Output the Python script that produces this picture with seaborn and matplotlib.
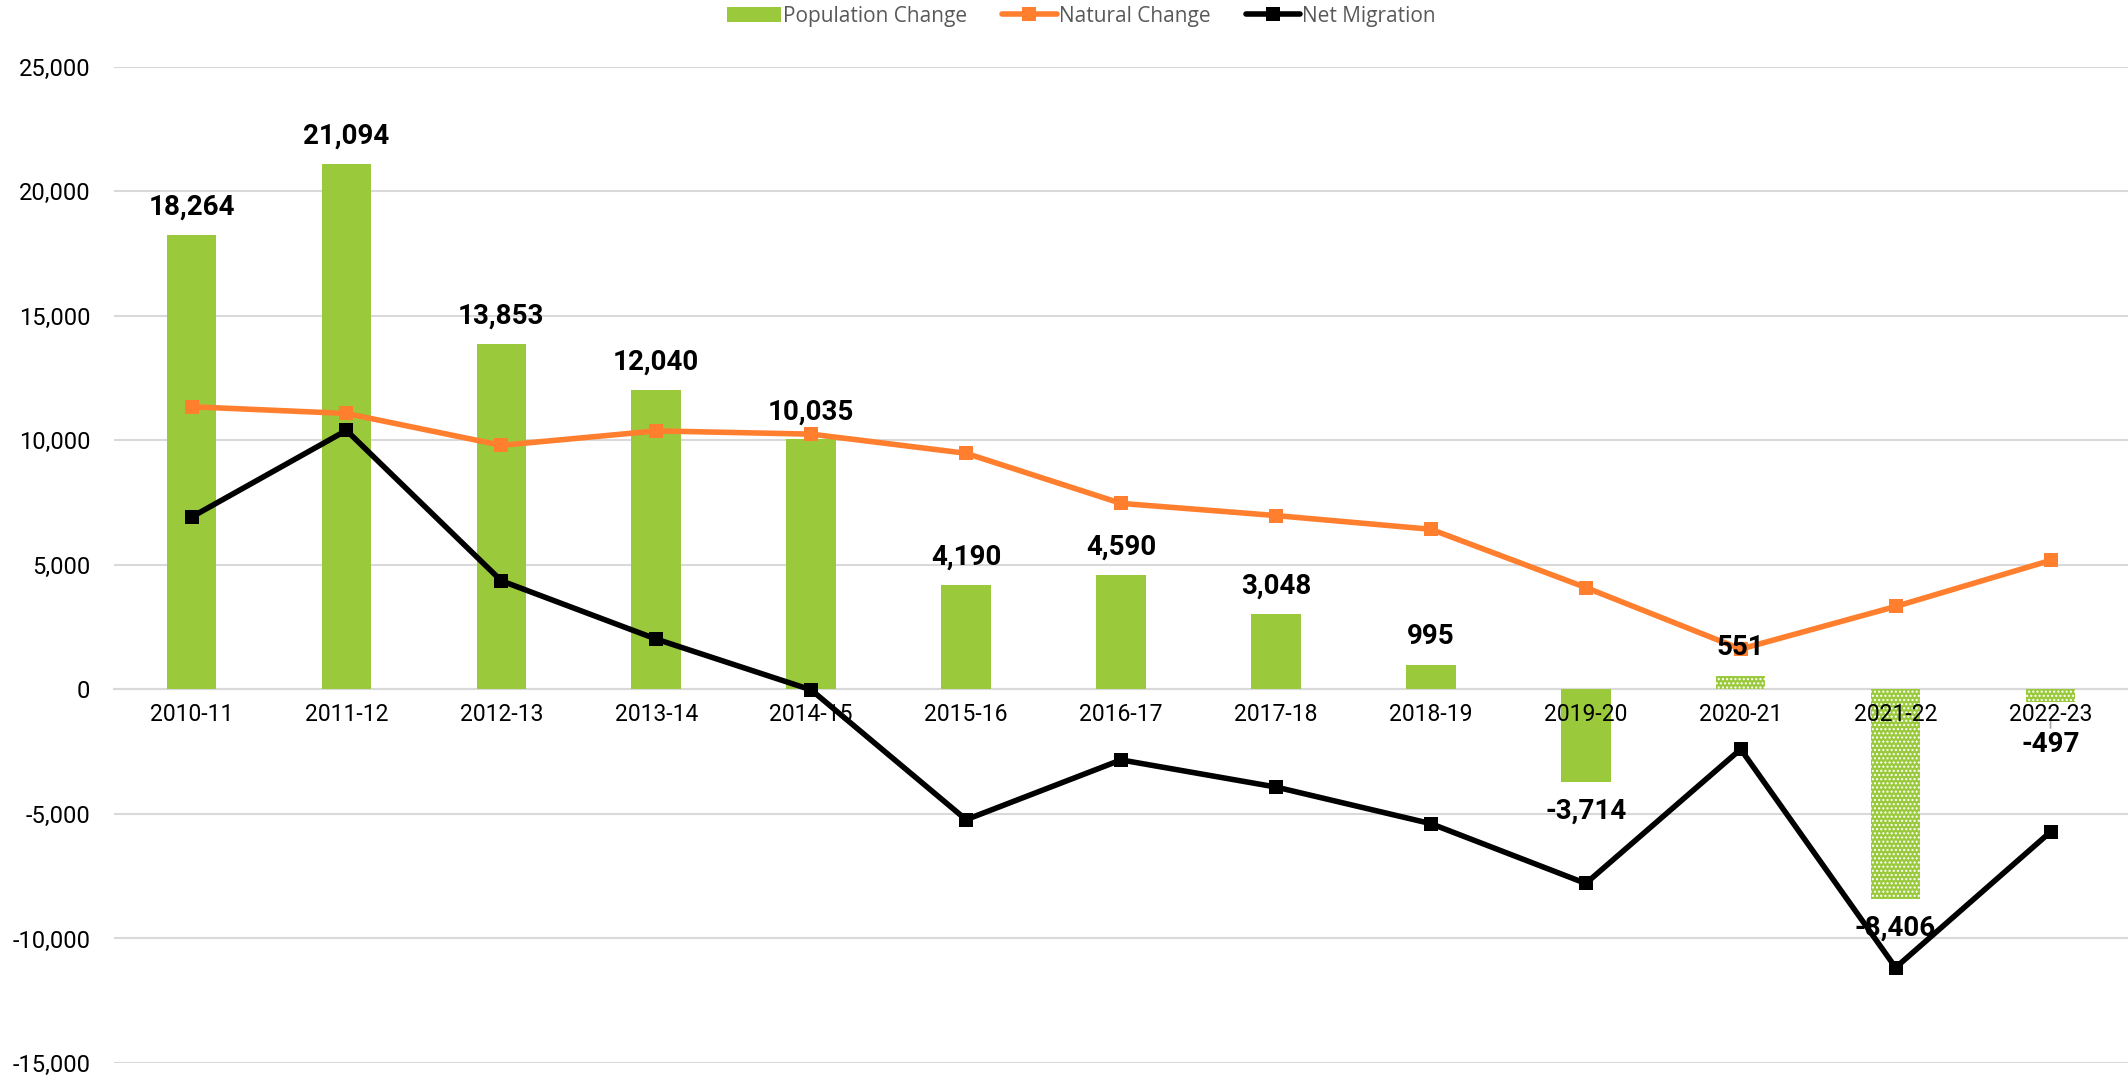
import numpy as np
import pandas as pd
import matplotlib
matplotlib.use('Agg')
import matplotlib.pyplot as plt
from matplotlib.patches import Patch
from matplotlib.lines import Line2D
import seaborn as sns

periods = ['2010-11', '2011-12', '2012-13', '2013-14', '2014-15', '2015-16', '2016-17',
           '2017-18', '2018-19', '2019-20', '2020-21', '2021-22', '2022-23']
population_change = [18264, 21094, 13853, 12040, 10035, 4190, 4590, 3048, 995, -3714, 551, -8406, -497]
natural_change = [11350, 11080, 9800, 10380, 10250, 9480, 7470, 6980, 6430, 4090, 1620, 3330, 5180]
net_migration = [6920, 10400, 4360, 2020, -20, -5230, -2830, -3920, -5390, -7790, -2400, -11170, -5720]
hatched = ['2020-21', '2021-22', '2022-23']

GREEN = '#9ACA3C'
ORANGE = '#FF7F2F'
GRID = '#D9D9D9'

sns.set_theme(style='white')
plt.rcParams['font.family'] = ['Roboto', 'DejaVu Sans']

df = pd.DataFrame({'period': periods, 'pop': population_change,
                   'natural': natural_change, 'migration': net_migration})
df['x'] = np.arange(len(df))

fig = plt.figure(figsize=(21.28, 10.77), dpi=100)
ax = fig.add_axes([0.0536, 0.013, 0.9464, 0.925])

sns.barplot(data=df, x='period', y='pop', color=GREEN, saturation=1, width=0.32, ax=ax, zorder=2)
for patch, period in zip(ax.patches, df['period']):
    patch.set_linewidth(0)
    if period in hatched:
        patch.set_edgecolor('white')
        patch.set_hatch('....')

sns.lineplot(data=df, x='x', y='natural', color=ORANGE, linewidth=4, marker='s',
             markersize=10.5, markeredgewidth=0, ax=ax, zorder=3)
sns.lineplot(data=df, x='x', y='migration', color='black', linewidth=4, marker='s',
             markersize=10.5, markeredgewidth=0, ax=ax, zorder=4)

# value labels for population change
lab_kw = dict(textcoords='offset points', ha='center', va='center', color='black',
              fontsize=20, fontweight='bold', zorder=3.5)
for i, v in enumerate(population_change):
    txt = f'{v:,}'
    if v >= 0:
        ax.annotate(txt, (i, v), xytext=(0, 20), **lab_kw)
    elif periods[i] == '2022-23':
        ax.annotate(txt, (i, v), xytext=(0, -31),
                    arrowprops=dict(arrowstyle='-', color='#A6A6A6', lw=1.2,
                                    shrinkA=0, shrinkB=12), **lab_kw)
    else:
        ax.annotate(txt, (i, v), xytext=(0, -21), **lab_kw)

ax.set_ylim(-15000, 25000)
ax.set_xlim(-0.5, len(periods) - 0.5)
ax.set_yticks(np.arange(-15000, 25001, 5000))
ax.yaxis.set_major_formatter(matplotlib.ticker.FuncFormatter(lambda v, p: f'{int(v):,}'))
ax.grid(axis='y', color=GRID, linewidth=1.5)
ax.set_axisbelow(True)
ax.xaxis.set_zorder(5)  # category labels sit on top of the bars
ax.set_xlabel('')
ax.set_ylabel('')

for s in ['top', 'right', 'left']:
    ax.spines[s].set_visible(False)
ax.spines['bottom'].set_position(('data', 0))
ax.spines['bottom'].set_color(GRID)
ax.spines['bottom'].set_linewidth(1.5)
ax.spines['bottom'].set_zorder(1)
ax.tick_params(axis='both', length=0, colors='black')
ax.tick_params(axis='y', pad=17, labelsize=17)
ax.tick_params(axis='x', pad=10, labelsize=16.5)

handles = [Patch(facecolor=GREEN, edgecolor='none'),
           Line2D([0], [0], color=ORANGE, lw=4, marker='s', markersize=10, markeredgewidth=0),
           Line2D([0], [0], color='black', lw=4, marker='s', markersize=10, markeredgewidth=0)]
leg = fig.legend(handles, ['Population Change', 'Natural Change', 'Net Migration'],
                 loc='center', bbox_to_anchor=(0.508, 0.985), ncol=3, frameon=False,
                 prop={'family': 'Open Sans', 'size': 15}, handlelength=2.6,
                 handletextpad=0.1, columnspacing=1.7)
for t in leg.get_texts():
    t.set_color('#595959')

fig.savefig('out.png', dpi=100)
